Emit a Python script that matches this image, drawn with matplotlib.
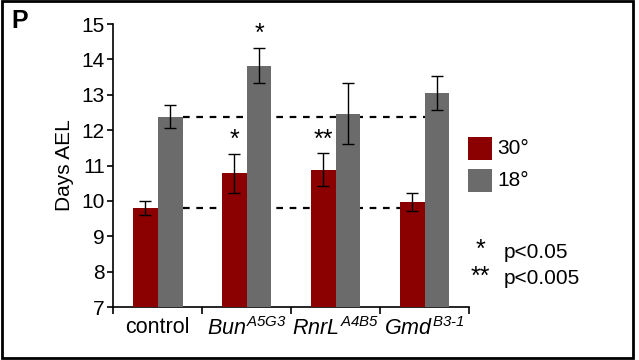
import numpy as np
import matplotlib
matplotlib.use("Agg")
import matplotlib.pyplot as plt
from matplotlib.patches import Rectangle

plt.rcParams['font.family'] = ['Liberation Sans', 'DejaVu Sans']
plt.rcParams['mathtext.fontset'] = 'custom'
plt.rcParams['mathtext.rm'] = 'Liberation Sans:italic'
plt.rcParams['mathtext.it'] = 'Liberation Sans:italic'

categories = ['control', r'$Bun^{A5G3}$', r'$RnrL^{A4B5}$', r'$Gmd^{B3\text{-}1}$']
hot = [9.8, 10.78, 10.88, 9.98]
hot_err = [0.19, 0.55, 0.47, 0.25]
cold = [12.38, 13.83, 12.47, 13.05]
cold_err = [0.33, 0.5, 0.87, 0.47]
hot_stars = ['', '*', '**', '']
cold_stars = ['', '*', '', '']
series_names = ['30°', '18°']

RED = '#8b0000'
GREY = '#6b6b6b'

fig = plt.figure(figsize=(6.39, 3.6), dpi=100)
ax = fig.add_axes([0.177, 0.147, 0.557, 0.786])

x = np.arange(len(categories))
w = 0.28

ax.bar(x - w / 2, hot, w, color=RED, zorder=3)
ax.bar(x + w / 2, cold, w, color=GREY, zorder=3)
ax.errorbar(x - w / 2, hot, yerr=hot_err, fmt='none', ecolor='black',
            elinewidth=1, capsize=4, capthick=1, zorder=4)
ax.errorbar(x + w / 2, cold, yerr=cold_err, fmt='none', ecolor='black',
            elinewidth=1, capsize=4, capthick=1, zorder=4)

# control reference lines
ax.hlines([cold[0], hot[0]], w, x[-1], colors='black', linestyles=(0, (3, 3)),
          linewidth=1.6, zorder=2)

for i in range(len(categories)):
    if hot_stars[i]:
        ax.text(x[i] - w / 2, hot[i] + hot_err[i] + 0.05, hot_stars[i],
                ha='center', va='bottom', fontsize=18)
    if cold_stars[i]:
        ax.text(x[i] + w / 2, cold[i] + cold_err[i] + 0.05, cold_stars[i],
                ha='center', va='bottom', fontsize=18)

ax.set_ylim(7, 15)
ax.set_xlim(-0.5, len(categories) - 0.5)
ax.set_yticks(range(7, 16))
ax.tick_params(axis='y', labelsize=15, length=4, width=1.2, pad=2)
ax.set_xticks(x)
ax.set_xticklabels(categories, fontsize=15.5)
ax.tick_params(axis='x', length=0, pad=7)
ax.set_xticks(np.arange(-0.5, len(categories)), minor=True)
ax.tick_params(axis='x', which='minor', length=5, width=1.2)
ax.set_ylabel('Days AEL', fontsize=15, labelpad=5)

for s in ['top', 'right']:
    ax.spines[s].set_visible(False)
for s in ['left', 'bottom']:
    ax.spines[s].set_linewidth(1.2)

# legend
fig.patches.append(Rectangle((468 / 639, 1 - 160 / 360), 24 / 639, 23 / 360,
                             transform=fig.transFigure, facecolor=RED))
fig.patches.append(Rectangle((468 / 639, 1 - 192 / 360), 24 / 639, 23 / 360,
                             transform=fig.transFigure, facecolor=GREY))
fig.text(497 / 639, 1 - 149 / 360, series_names[0], fontsize=15, va='center')
fig.text(497 / 639, 1 - 181 / 360, series_names[1], fontsize=15, va='center')

fig.text(480 / 639, 1 - 250 / 360, '*', fontsize=18, ha='center', va='center')
fig.text(480 / 639, 1 - 277 / 360, '**', fontsize=18, ha='center', va='center')
fig.text(504 / 639, 1 - 252 / 360, 'p<0.05', fontsize=15, va='center')
fig.text(504 / 639, 1 - 279 / 360, 'p<0.005', fontsize=15, va='center')

fig.text(11 / 639, 1 - 21 / 360, 'P', fontsize=18, fontweight='bold', va='center')

fig.patches.append(Rectangle((0.003, 0.006), 0.988, 0.99, transform=fig.transFigure,
                             fill=False, edgecolor='black', linewidth=2))

fig.savefig('out.png', dpi=100)
